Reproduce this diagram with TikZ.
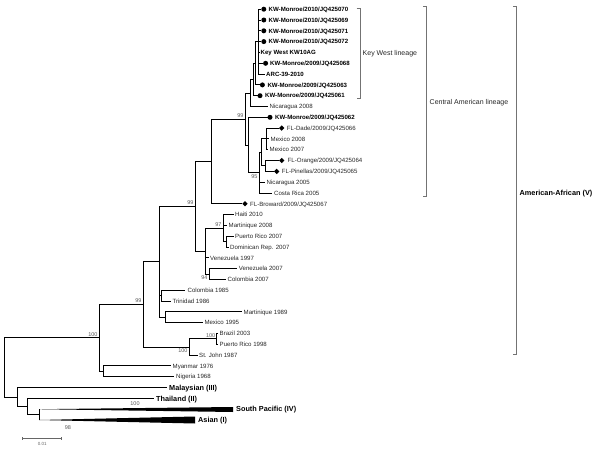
\documentclass[tikz,border=0pt]{standalone}
\usepackage{fontspec}
\setmainfont{Liberation Sans}
\usetikzlibrary{shapes.geometric}
\newcommand\leaf[7]{\coordinate (t#2) at (#3,#4); \node[#6] (l#2) at (#5,#4) {#7}; \draw[br] (#1) |- (t#2);}
\newcommand\mk[4]{\node[#4] (m#1) at (#2,#3) {};}
\begin{document}
\begin{tikzpicture}[x=1pt,y=-1pt,
  br/.style={line width=1.0pt, line join=miter, draw=black},
  lf/.style={anchor=west, inner sep=0pt, font=\fontsize{6.1}{7}\selectfont, text=black!85, text height=4.4pt, text depth=0pt},
  lfb/.style={lf, font=\fontsize{6.1}{7}\selectfont\bfseries, text=black},
  grp/.style={anchor=west, inner sep=0pt, font=\fontsize{7.3}{8}\selectfont\bfseries, text height=5.3pt, text depth=0pt},
  lin/.style={anchor=west, inner sep=0pt, font=\fontsize{7}{8}\selectfont, text=black!85, text height=5pt, text depth=0pt},
  bs/.style={inner sep=0.3pt, font=\fontsize{5.5}{6.5}\selectfont, text=black!65},
  dotm/.style={circle, fill=black, inner sep=0pt, minimum size=5pt},
  dia/.style={diamond, fill=black, inner sep=0pt, minimum size=5.5pt},
  brk/.style={draw=black!55, line width=0.6pt}]
\useasboundingbox (0,0) rectangle (600,450);

% internal nodes
\coordinate (K1) at (258,41.65);
\coordinate (K2) at (255.5,63.3);
\coordinate (K3) at (253,79.5);
\coordinate (K4) at (250,93.0);
\coordinate (FD) at (266,138.9);
\coordinate (FOP) at (265,165.95);
\coordinate (G) at (261,152.4);
\coordinate (F95) at (259,172.7);
\coordinate (Y) at (248,145.0);
\coordinate (CA) at (245,119.0);
\coordinate (P) at (211.7,161.4);
\coordinate (PRD) at (226,241.6);
\coordinate (N97) at (223,228.1);
\coordinate (N94) at (209,274.05);
\coordinate (HV) at (205,251.1);
\coordinate (N195) at (195,206.25);
\coordinate (CT) at (161.7,295.7);
\coordinate (MM) at (165,317.3);
\coordinate (N159) at (159.3,261.8);
\coordinate (BP) at (216.7,338.9);
\coordinate (BPS) at (189,347.0);
\coordinate (N143) at (143,304.4);
\coordinate (MN) at (103,371.3);
\coordinate (A100) at (99,337.85);
\coordinate (D) at (39,414.6);
\coordinate (C) at (27,406.5);
\coordinate (B) at (17,397.05);
\coordinate (R) at (4,367.45);

\draw[br] (K2) |- (K1);
\draw[br] (K3) |- (K2);
\draw[br] (K4) |- (K3);
\draw[br] (CA) |- (K4);
\draw[br] (CA) |- (Y);
\draw[br] (Y) |- (F95);
\draw[br] (F95) |- (G);
\draw[br] (G) |- (FD);
\draw[br] (G) |- (FOP);
\draw[br] (P) |- (CA);
\draw[br] (N195) |- (P);
\draw[br] (N195) |- (HV);
\draw[br] (HV) |- (N97);
\draw[br] (HV) |- (N94);
\draw[br] (N97) |- (PRD);
\draw[br] (N159) |- (N195);
\draw[br] (N159) |- (CT);
\draw[br] (N159) |- (MM);
\draw[br] (N143) |- (N159);
\draw[br] (N143) |- (BPS);
\draw[br] (BPS) |- (BP);
\draw[br] (A100) |- (N143);
\draw[br] (A100) |- (MN);
\draw[br] (R) |- (A100);
\draw[br] (R) |- (B);
\draw[br] (B) |- (C);
\draw[br] (C) |- (D);

% leaves
\leaf{K1}{0}{261}{9.2}{268.5}{lfb}{KW-Monroe/2010/JQ425070}
\mk{0}{263.8}{9.2}{dotm}
\leaf{K1}{1}{261}{20.0}{268.5}{lfb}{KW-Monroe/2010/JQ425069}
\mk{1}{263.8}{20.0}{dotm}
\leaf{K1}{2}{261}{30.8}{268.5}{lfb}{KW-Monroe/2010/JQ425071}
\mk{2}{263.8}{30.8}{dotm}
\leaf{K1}{3}{261}{41.6}{268.5}{lfb}{KW-Monroe/2010/JQ425072}
\mk{3}{263.8}{41.6}{dotm}
\leaf{K1}{4}{259.5}{52.4}{260.5}{lfb}{Key West KW10AG}
\leaf{K1}{5}{263}{63.3}{270}{lfb}{KW-Monroe/2009/JQ425068}
\mk{5}{265.6}{63.3}{dotm}
\leaf{K1}{6}{264.5}{74.1}{266}{lfb}{ARC-39-2010}
\leaf{K2}{7}{260}{84.9}{267.3}{lfb}{KW-Monroe/2009/JQ425063}
\mk{7}{262.4}{84.9}{dotm}
\leaf{K3}{8}{257.5}{95.7}{265}{lfb}{KW-Monroe/2009/JQ425061}
\mk{8}{260}{95.7}{dotm}
\leaf{K4}{9}{268}{106.5}{269.5}{lf}{Nicaragua 2008}
\leaf{Y}{10}{267.5}{117.3}{275}{lfb}{KW-Monroe/2009/JQ425062}
\mk{10}{270}{117.3}{dotm}
\leaf{FD}{11}{279}{128.1}{286.7}{lf}{FL-Dade/2009/JQ425066}
\mk{11}{281.7}{128.1}{dia}
\leaf{FD}{12}{269}{138.9}{270.5}{lf}{Mexico 2008}
\leaf{FD}{13}{268}{149.7}{269.5}{lf}{Mexico 2007}
\leaf{FOP}{14}{279}{160.5}{287.5}{lf}{FL-Orange/2009/JQ425064}
\mk{14}{281.7}{160.5}{dia}
\leaf{FOP}{15}{274}{171.4}{281.7}{lf}{FL-Pinellas/2009/JQ425065}
\mk{15}{276.7}{171.4}{dia}
\leaf{F95}{16}{265}{182.2}{266.5}{lf}{Nicaragua 2005}
\leaf{F95}{17}{272}{193.0}{274}{lf}{Costa Rica 2005}
\leaf{P}{18}{242.3}{203.8}{250}{lf}{FL-Broward/2009/JQ425067}
\mk{18}{245}{203.8}{dia}
\leaf{N97}{19}{233.5}{214.6}{235}{lf}{Haiti 2010}
\leaf{N97}{20}{227}{225.4}{228.5}{lf}{Martinique 2008}
\leaf{PRD}{21}{233.5}{236.2}{235}{lf}{Puerto Rico 2007}
\leaf{PRD}{22}{228.5}{247.0}{230}{lf}{Dominican Rep. 2007}
\leaf{HV}{23}{208.5}{257.8}{210}{lf}{Venezuela 1997}
\leaf{N94}{24}{237}{268.6}{238.7}{lf}{Venezuela 2007}
\leaf{N94}{25}{226}{279.5}{227.5}{lf}{Colombia 2007}
\leaf{CT}{26}{185}{290.3}{187.5}{lf}{Colombia 1985}
\leaf{CT}{27}{170.5}{301.1}{172.3}{lf}{Trinidad 1986}
\leaf{MM}{28}{241.5}{311.9}{243.5}{lf}{Martinique 1989}
\leaf{MM}{29}{202.5}{322.7}{204.3}{lf}{Mexico 1995}
\leaf{BP}{30}{218}{333.5}{219.5}{lf}{Brazil 2003}
\leaf{BP}{31}{218}{344.3}{219.5}{lf}{Puerto Rico 1998}
\leaf{BPS}{32}{197.5}{355.1}{199}{lf}{St. John 1987}
\leaf{MN}{33}{170.5}{365.9}{172.5}{lf}{Myanmar 1976}
\leaf{MN}{34}{174}{376.7}{176}{lf}{Nigeria 1968}
\leaf{B}{35}{167}{387.6}{169}{grp}{Malaysian (III)}
\leaf{C}{36}{153.5}{398.4}{156}{grp}{Thailand (II)}
\leaf{D}{37}{39}{409.2}{236}{grp}{South Pacific (IV)}
\leaf{D}{38}{39}{420.0}{198}{grp}{Asian (I)}
\fill (t37) -- (233,407.0) -- (233,412.0) -- cycle;
\fill (t38) -- (195,416.5) -- (195,423.5) -- cycle;

% bootstrap values
\node[bs, anchor=south east] (b1) at (98,336.8) {100};
\node[bs, anchor=south east] (b2) at (142,303.4) {99};
\node[bs, anchor=south east] (b3) at (194,205.2) {99};
\node[bs, anchor=south east] (b4) at (222,227.1) {97};
\node[bs, anchor=north east] (b5) at (208,275.2) {94};
\node[bs, anchor=south east] (b6) at (244,118) {99};
\node[bs, anchor=north east] (b7) at (258,173.8) {95};
\node[bs, anchor=south east] (b8) at (215.7,337.9) {100};
\node[bs, anchor=north east] (b9) at (188,348.2) {100};
\node[bs] (b10) at (135,404) {100};
\node[bs] (b11) at (68,427.5) {98};

% brackets
\coordinate (kw1) at (356.5,8); \coordinate (kw2) at (360,8);
\coordinate (kw3) at (360,98); \coordinate (kw4) at (356.5,98);
\draw[brk] (kw1) -- (kw2) -- (kw3) -- (kw4);
\node[lin] (kwl) at (362.5,52.7) {Key West lineage};
\coordinate (ca1) at (423.2,6.7); \coordinate (ca2) at (426.7,6.7);
\coordinate (ca3) at (426.7,196.7); \coordinate (ca4) at (423.2,196.7);
\draw[brk] (ca1) -- (ca2) -- (ca3) -- (ca4);
\node[lin] (cal) at (429.5,101.7) {Central American lineage};
\coordinate (aa1) at (513.2,6.7); \coordinate (aa2) at (516.7,6.7);
\coordinate (aa3) at (516.7,354); \coordinate (aa4) at (513.2,354);
\draw[brk] (aa1) -- (aa2) -- (aa3) -- (aa4);
\node[grp] (aal) at (519.5,193.3) {American-African (V)};

% scale bar
\coordinate (s1) at (22.7,438); \coordinate (s2) at (61.7,438);
\draw[black!60, line width=0.6pt] (s1) -- (s2);
\draw[black!60, line width=0.6pt] ([yshift=-1.5pt]s1) -- ([yshift=1.5pt]s1);
\draw[black!60, line width=0.6pt] ([yshift=-1.5pt]s2) -- ([yshift=1.5pt]s2);
\node[font=\fontsize{4.5}{5.5}\selectfont, text=black!60, inner sep=0pt] (sl) at (42.2,443.5) {0.01};
\end{tikzpicture}
\end{document}
